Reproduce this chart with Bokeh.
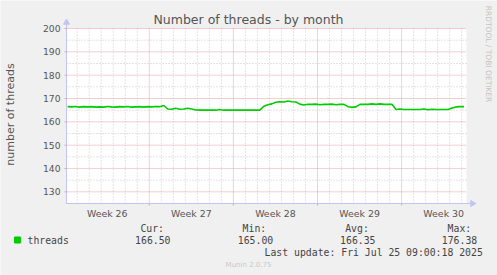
from bokeh.plotting import figure
from bokeh.models import Range1d
from bokeh.core.properties import value
from bokeh.embed import file_html
from bokeh.resources import INLINE

# ---------------- data ----------------
title_text = "Number of threads - by month"
y_label = "number of threads"
week_labels = ["Week 26", "Week 27", "Week 28", "Week 29", "Week 30"]
week_centers = [3.5, 10.5, 17.5, 24.5, 31.5]     # days since Mon of week 26
week_starts = [7, 14, 21, 28]
day_lines = [d for d in range(1, 34) if d % 7 != 0]
y_major = [130, 140, 150, 160, 170, 180, 190, 200]
y_minor = [125, 135, 145, 155, 165, 175, 185, 195]
y_tick_labels = ["130", "140", "150", "160", "170", "180", "190", "200"]

t_start = 0.2          # first sample, days
t_step = 1.0 / 3.0     # 8 hour samples
threads = [
    166.5, 166.4, 166.6, 166.3, 166.5, 166.4, 166.5, 166.3, 166.4, 166.3,
    166.6, 166.4, 166.3, 166.5, 166.4, 166.6, 166.3, 166.4, 166.5, 166.3,
    166.5, 166.4, 166.6, 166.5, 167.0,
    165.5, 165.4, 165.8, 165.4, 165.5, 165.8, 165.5,
    165.1, 165.0, 165.0, 165.0, 165.0, 165.0, 165.3, 165.0, 165.0, 165.0,
    165.0, 165.0, 165.0, 165.0, 165.0, 165.0, 165.0,
    166.7, 167.3, 167.7, 168.4, 168.6, 168.5, 168.9, 168.6, 168.5,
    167.6, 167.2, 167.5, 167.5, 167.6, 167.3, 167.5, 167.5, 167.6, 167.3,
    167.5, 167.5,
    166.5, 166.2, 166.4,
    167.5, 167.5, 167.5, 167.7, 167.5, 167.7, 167.5, 167.5, 167.5,
    165.3, 165.5, 165.3, 165.3, 165.3, 165.3, 165.3, 165.5, 165.2, 165.4,
    165.3, 165.3, 165.3, 165.3,
    165.9, 166.4, 166.5, 166.5,
]
times = [t_start + i * t_step for i in range(len(threads))]

series_name = "threads"
stat_heads = ["Cur:", "Min:", "Avg:", "Max:"]
stat_vals = ["166.50", "165.00", "166.35", "176.38"]
last_update = "Last update: Fri Jul 25 09:00:18 2025"
footer = "Munin 2.0.75"
side_text = "RRDTOOL / TOBI OETIKER"

# ---------------- layout ----------------
W, H = 497, 275
FL, FT, FR, FB = 66, 28, 466, 203   # plot-area edges (canvas px)
X0, X1 = 0.11, 33.4                 # days shown in the plot area
Y0, Y1 = 125, 200                   # values shown in the plot area

KX = (X1 - X0) / (FR - FL)          # days per px
KY = (Y1 - Y0) / (FB - FT)          # value per px


def px2x(X):
    return X0 + (X - FL) * KX


def px2y(Y):
    return Y1 - (Y - FT) * KY


LAV = "#c4c4f4"
TXT = "#555555"
GREEN = "#00cc00"
MAJ = "#eaa0a0"
MINC = "#c8c8c8"

p = figure(width=W, height=H, output_backend="svg", toolbar_location=None,
           x_range=Range1d(px2x(0), px2x(W)), y_range=Range1d(px2y(H), px2y(0)),
           min_border=0, background_fill_color="#f0f0f0",
           border_fill_color="#f0f0f0")
p.outline_line_color = None
p.axis.visible = False
p.grid.visible = False

# plot area
p.quad(left=[X0], right=[X1], bottom=[Y0], top=[Y1], fill_color="white",
       line_color=None)

# minor grid
p.segment(x0=day_lines, x1=day_lines, y0=[Y0] * len(day_lines), y1=[Y1] * len(day_lines),
          line_color=MINC, line_dash="1 2", line_width=1)
p.segment(x0=[X0] * len(y_minor), x1=[X1] * len(y_minor), y0=y_minor, y1=y_minor,
          line_color=MINC, line_dash="1 2", line_width=1)
# major grid
p.segment(x0=week_starts, x1=week_starts, y0=[Y0] * len(week_starts), y1=[Y1] * len(week_starts),
          line_color=MAJ, line_dash="1 1", line_width=1)
p.segment(x0=[X0] * len(y_major), x1=[X1] * len(y_major), y0=y_major, y1=y_major,
          line_color=MAJ, line_dash="1 1", line_width=1)

# data line
p.line(times, threads, line_color=GREEN, line_width=1.6)

# axes with arrow heads
p.segment(x0=[X0], x1=[X0], y0=[Y0], y1=[px2y(23)], line_color=LAV, line_width=1)
p.segment(x0=[X0], x1=[px2x(471)], y0=[Y0], y1=[Y0], line_color=LAV, line_width=1)
p.scatter(x=[X0], y=[px2y(22)], marker="triangle", size=6, fill_color=LAV, line_color=LAV)
p.scatter(x=[px2x(472)], y=[Y0], marker="triangle", size=6, angle=-1.5708,
          fill_color=LAV, line_color=LAV)
# small ticks
p.segment(x0=week_starts, x1=week_starts, y0=[Y0] * 4, y1=[px2y(FB + 2)] * 4,
          line_color=MAJ, line_width=1)
p.segment(x0=[px2x(FL - 2)] * len(y_major), x1=[X0] * len(y_major), y0=y_major, y1=y_major,
          line_color=MAJ, line_width=1)

F = value("DejaVu Sans")
MONO = value("DejaVu Sans Mono")

# tick labels
p.text(x=[px2x(60)] * len(y_major), y=y_major, text=y_tick_labels, text_font=F,
       text_font_size=value("9.2px"), text_color=TXT, text_align="right",
       text_baseline="middle")
p.text(x=week_centers, y=[px2y(212.5)] * len(week_centers), text=week_labels, text_font=F,
       text_font_size=value("9.4px"), text_color=TXT, text_align="center",
       text_baseline="middle")


def lab(text, X, Y, size, font=F, color=TXT, align="left", angle=0.0):
    p.text(x=[px2x(X)], y=[px2y(Y)], text=[text], text_font=font,
           text_font_size=value(size), text_color=color, text_align=align,
           text_baseline="middle", angle=angle)


lab(title_text, 248, 19, "12.5px", align="center")
lab(y_label, 10, 114, "11px", align="center", angle=1.5708)
lab(side_text, 488, 53.5, "7.5px", color="#c4c4c4", align="center", angle=-1.5708)

# legend
p.scatter(x=[px2x(17)], y=[px2y(239.5)], marker="square", size=6,
          fill_color=GREEN, line_color=GREEN)
lab(series_name, 27, 239.5, "9.8px", font=MONO, color="#444444")
head_right = [163.5, 265.7, 368.3, 470.7]
val_right = [170.0, 272.7, 375.0, 476.7]
for h, v, hr, vr in zip(stat_heads, stat_vals, head_right, val_right):
    lab(h, hr, 228, "9.8px", font=MONO, color="#444444", align="right")
    lab(v, vr, 239.5, "9.8px", font=MONO, color="#444444", align="right")
lab(last_update, 482.3, 251.7, "9.8px", font=MONO, color="#444444", align="right")
lab(footer, 248, 264.3, "7px", color="#c8c8c8", align="center")

open("out.html", "w").write(file_html(p, INLINE))
